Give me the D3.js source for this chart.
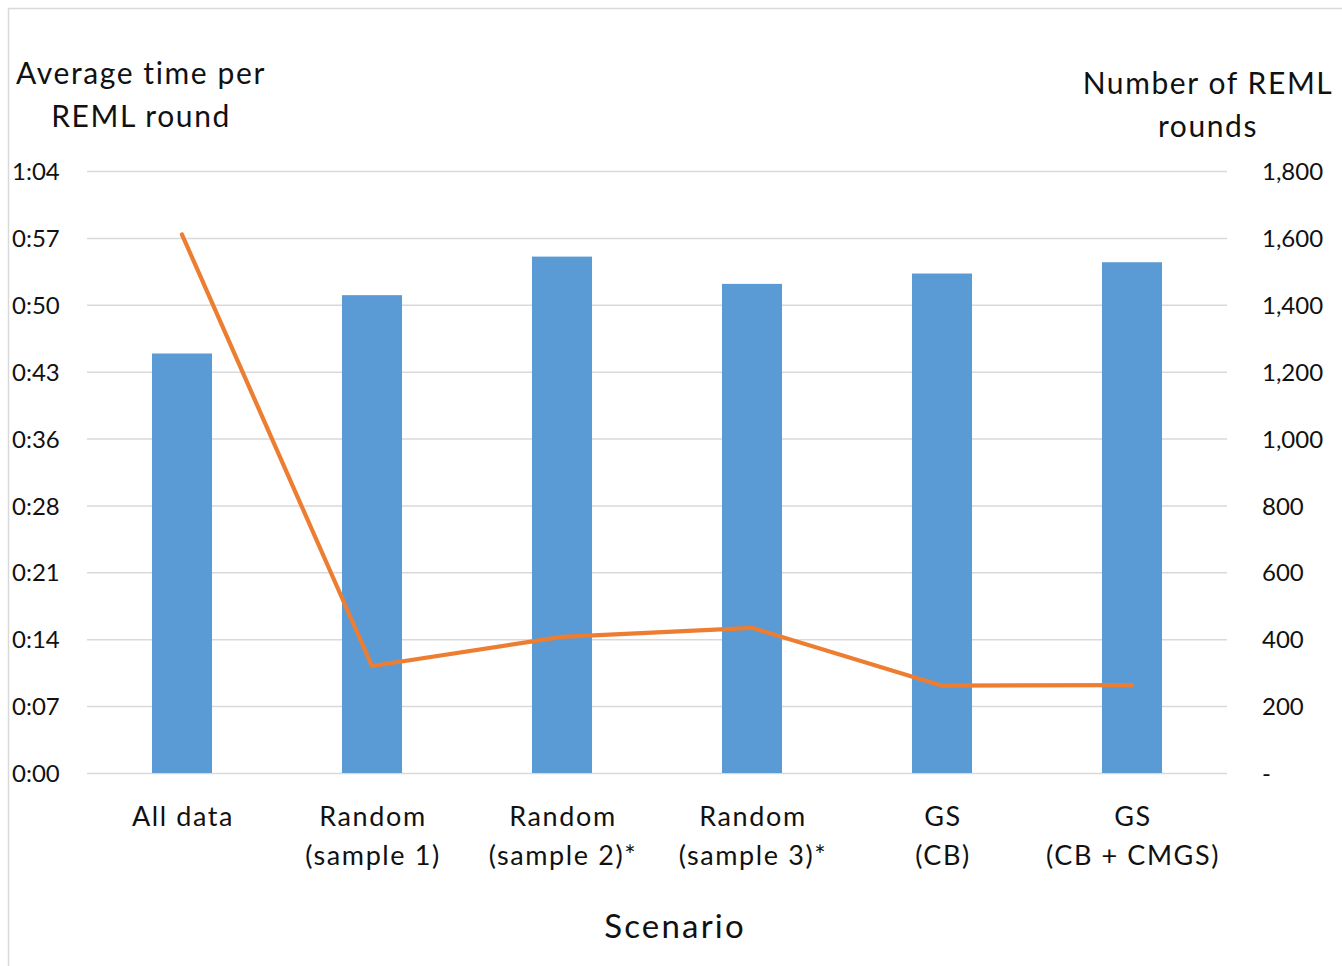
<!DOCTYPE html>
<html>
<head>
<meta charset="utf-8">
<script src="https://cdn.jsdelivr.net/npm/d3@7"></script>
<style>
  html, body { margin: 0; padding: 0; background: #fff; }
  svg { display: block; }
  text { font-family: Lato, "Open Sans", sans-serif; fill: #111; }
</style>
</head>
<body>
<svg id="chart" width="1342" height="966"></svg>
<script>
// Scenario categories (line breaks marked with "\n")
const categories = [
  "All data",
  "Random\n(sample 1)",
  "Random\n(sample 2)*",
  "Random\n(sample 3)*",
  "GS\n(CB)",
  "GS\n(CB + CMGS)"
];
// Average time per REML round, in seconds
const avgTimeSeconds = [44.6, 50.8, 54.9, 52.0, 53.1, 54.3];
// Number of REML rounds
const remlRounds = [1610, 320, 407, 434, 261, 263];
// Left axis: 0 to 1:04 split into nine equal steps
const timeTicks = d3.range(0, 10).map(i => i * 64 / 9);
// Right axis ticks
const roundTicks = d3.range(0, 1801, 200);

const svg = d3.select("#chart");
const W = 1342, H = 966;
const plot = { left: 87, right: 1227, top: 171, bottom: 773 };

// Outer frame
svg.append("rect")
  .attr("x", 8.5).attr("y", 8.5)
  .attr("width", W + 20).attr("height", H + 20)
  .attr("fill", "none").attr("stroke", "#d9d9d9").attr("stroke-width", 1.5);

const x = d3.scaleBand().domain(categories)
  .range([plot.left, plot.right]).paddingInner(0.684).paddingOuter(0.342);
const yL = d3.scaleLinear().domain([0, 64]).range([plot.bottom, plot.top]);
const yR = d3.scaleLinear().domain([0, 1800]).range([plot.bottom, plot.top]);

const fmtTime = s => {
  const t = Math.round(s);
  return Math.floor(t / 60) + ":" + String(t % 60).padStart(2, "0");
};
const fmtRounds = v => v === 0 ? "-" : d3.format(",")(v);

// Gridlines
svg.append("g").selectAll("line").data(timeTicks).join("line")
  .attr("x1", plot.left).attr("x2", plot.right)
  .attr("y1", d => yL(d) + 0.5).attr("y2", d => yL(d) + 0.5)
  .attr("stroke", "#d9d9d9").attr("stroke-width", 1.5);

// Left axis labels
const leftAxis = d3.axisLeft(yL).tickValues(timeTicks).tickFormat(fmtTime).tickSize(0);
const gL = svg.append("g").attr("transform", "translate(12,0)").call(leftAxis);
gL.select(".domain").remove();
gL.selectAll("text")
  .attr("x", 0).attr("dy", "0.36em")
  .attr("text-anchor", "start")
  .style("font-family", "Lato, sans-serif").style("font-size", "24px").style("fill", "#111");

// Right axis labels
const rightAxis = d3.axisRight(yR).tickValues(roundTicks).tickFormat(fmtRounds).tickSize(0);
const gR = svg.append("g").attr("transform", "translate(1262,0)").call(rightAxis);
gR.select(".domain").remove();
gR.selectAll("text")
  .attr("x", 0).attr("dy", "0.36em")
  .attr("text-anchor", "start")
  .style("font-family", "Lato, sans-serif").style("font-size", "24px").style("fill", "#111");

// Bars
svg.append("g").selectAll("rect").data(categories).join("rect")
  .attr("x", d => x(d))
  .attr("width", x.bandwidth())
  .attr("y", (d, i) => yL(avgTimeSeconds[i]))
  .attr("height", (d, i) => yL(0) - yL(avgTimeSeconds[i]))
  .attr("fill", "#5b9bd5");

// Line of REML rounds
const line = d3.line()
  .x((d, i) => x(categories[i]) + x.bandwidth() / 2)
  .y(d => yR(d));
svg.append("path").datum(remlRounds)
  .attr("d", line)
  .attr("fill", "none").attr("stroke", "#ed7d31")
  .attr("stroke-width", 4.2).attr("stroke-linejoin", "round").attr("stroke-linecap", "round");

// Category labels
const catG = svg.append("g");
categories.forEach(c => {
  const cx = x(c) + x.bandwidth() / 2 + 1;
  const t = catG.append("text")
    .attr("text-anchor", "middle")
    .style("font-size", "27px")
    .style("letter-spacing", "1.6px");
  c.split("\n").forEach((part, j) => {
    t.append("tspan").attr("x", cx).attr("y", 826 + j * 39).text(part);
  });
});

// Axis titles
function title(lines, cx, y0, size, gap, spacing) {
  const t = svg.append("text").attr("text-anchor", "middle")
    .style("font-size", size + "px").style("letter-spacing", spacing + "px");
  lines.forEach((s, j) => t.append("tspan").attr("x", cx).attr("y", y0 + j * gap).text(s));
}
title(["Average time per", "REML round"], 141, 84, 30, 43, 1.6);
title(["Number of REML", "rounds"], 1208, 94, 30, 43, 1.6);
title(["Scenario"], 675, 938, 33, 0, 2.2);
</script>
</body>
</html>
